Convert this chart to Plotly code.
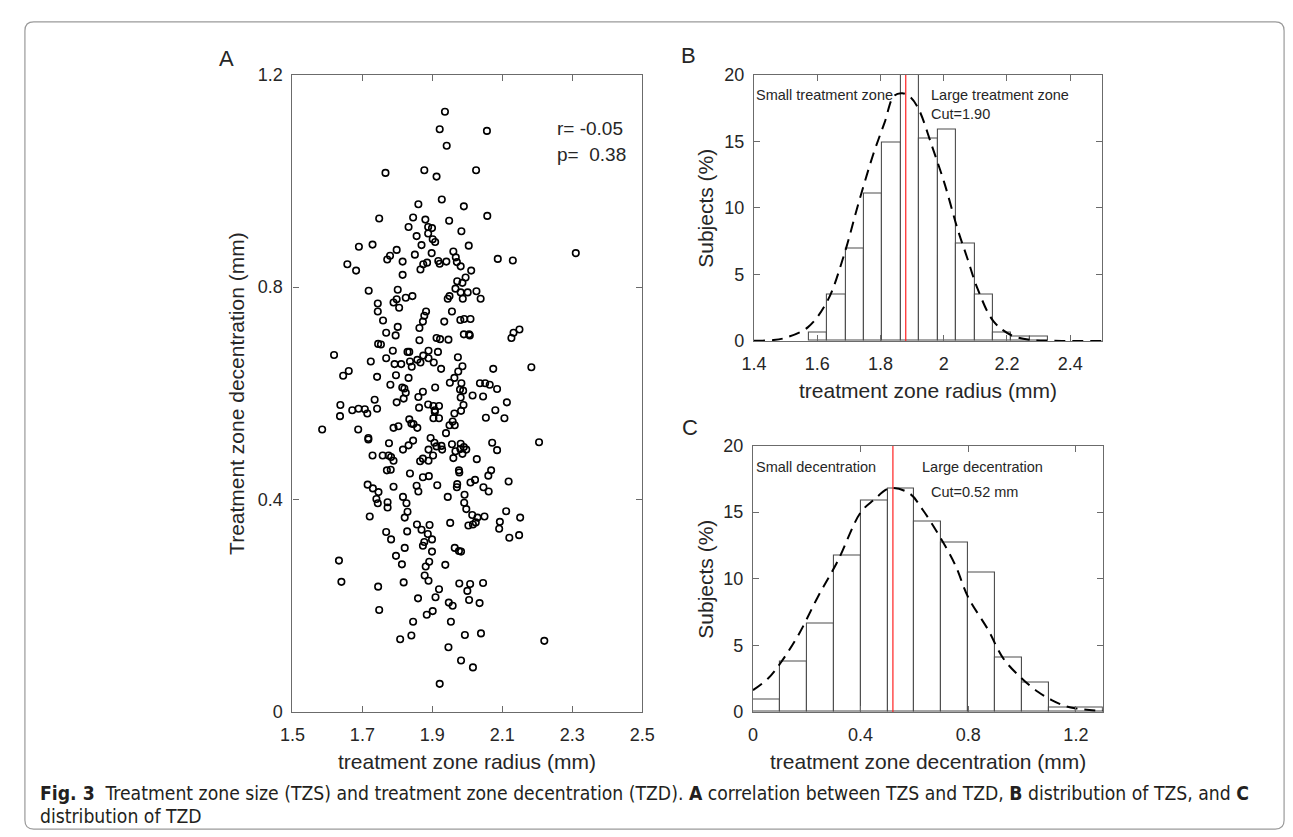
import plotly.graph_objects as go

W, H = 1293, 837

# ---------------- Data ----------------
# Panel A: treatment zone radius (mm) vs decentration (mm)
tz_radius = [
 1.936,1.921,2.056,1.941,1.766,1.877,1.912,2.025,1.927,1.860,1.990,1.748,1.845,1.880,1.948,2.057,
 1.832,1.888,1.899,1.855,1.888,1.983,1.901,1.908,1.690,1.729,1.869,2.004,1.798,1.898,1.850,1.960,
 1.779,1.771,1.967,2.310,2.087,2.130,1.657,1.682,1.815,1.874,1.885,1.917,1.921,1.940,1.970,1.866,
 1.981,2.011,1.815,1.995,1.971,1.986,
 1.718,1.801,1.966,1.981,2.001,2.026,2.038,1.987,1.944,1.949,1.824,1.843,1.798,1.789,1.805,1.744,
 1.744,1.882,1.877,1.956,1.759,1.873,1.934,1.980,1.991,2.009,1.801,1.863,2.149,2.132,2.126,1.768,
 1.795,1.990,2.005,2.007,1.863,1.912,1.922,1.946,1.745,1.753,1.619,1.787,1.829,1.834,1.889,1.916,
 1.768,1.874,1.857,1.889,1.973,1.724,1.836,1.866,1.904,1.792,1.811,1.841,1.925,1.986,1.974,2.074,
 2.183,1.661,1.645,1.742,1.796,1.832,1.963,1.780,1.950,1.983,2.036,2.051,2.064,2.085,1.814,1.820,
 1.908,1.979,1.988,1.824,1.873,1.860,1.818,1.981,2.015,2.045,1.735,1.798,2.113,1.637,1.888,1.903,
 1.919,1.989,1.862,1.742,1.671,1.689,1.707,1.714,1.907,1.907,1.982,2.080,1.636,1.963,1.903,1.919,
 2.053,2.106,1.834,1.840,1.846,1.958,1.949,1.964,1.803,1.789,1.857,1.585,1.688,1.939,1.717,1.717,
 1.895,1.776,1.845,1.832,1.906,1.912,1.926,1.956,1.981,1.990,1.997,1.928,1.816,1.889,2.071,2.205,
 2.085,1.966,1.980,1.986,1.729,1.758,1.775,1.782,1.789,1.902,1.873,1.865,1.889,1.960,2.027,1.770,
 1.781,1.976,1.977,2.068,1.836,1.873,1.890,2.060,2.118,2.022,2.009,1.715,1.730,1.746,1.789,1.855,
 1.860,1.914,1.971,1.970,2.046,2.061,1.944,1.816,1.992,
 1.740,1.744,1.772,1.772,1.826,1.991,1.997,1.829,1.721,1.821,2.111,2.014,2.029,2.049,2.151,2.093,
 1.951,2.024,2.016,2.003,1.856,1.892,1.869,1.887,2.091,1.768,1.828,1.782,1.899,1.877,1.873,2.120,
 2.148,1.821,1.964,1.976,1.982,1.899,1.796,1.633,1.813,1.891,1.937,1.881,1.878,1.889,1.640,1.818,
 1.977,2.008,2.045,1.745,1.919,2.000,1.859,1.909,2.005,1.947,1.958,2.035,1.748,1.901,1.884,1.845,
 1.953,1.840,1.808,1.993,2.039,2.220,1.946,1.982,2.016,1.921,
]
tz_decentration = [
 1.130,1.097,1.094,1.066,1.015,1.020,1.008,1.020,0.965,0.956,0.952,0.929,0.931,0.927,0.925,0.934,
 0.913,0.913,0.911,0.896,0.901,0.905,0.890,0.885,0.876,0.880,0.879,0.878,0.870,0.864,0.861,0.867,
 0.859,0.852,0.856,0.864,0.853,0.850,0.843,0.831,0.848,0.843,0.846,0.849,0.844,0.848,0.847,0.833,
 0.839,0.831,0.823,0.818,0.811,0.808,
 0.793,0.795,0.797,0.790,0.790,0.792,0.778,0.778,0.778,0.783,0.780,0.783,0.777,0.771,0.761,0.769,
 0.754,0.754,0.746,0.754,0.737,0.735,0.735,0.738,0.740,0.740,0.725,0.723,0.720,0.714,0.704,0.714,
 0.709,0.711,0.711,0.709,0.700,0.704,0.702,0.701,0.693,0.692,0.672,0.680,0.678,0.678,0.680,0.678,
 0.666,0.671,0.663,0.666,0.668,0.660,0.660,0.658,0.658,0.655,0.655,0.650,0.646,0.651,0.641,0.646,
 0.649,0.642,0.633,0.631,0.634,0.629,0.629,0.616,0.620,0.619,0.619,0.619,0.616,0.608,0.611,0.609,
 0.611,0.607,0.605,0.601,0.603,0.593,0.590,0.592,0.596,0.594,0.588,0.583,0.583,0.578,0.579,0.576,
 0.576,0.578,0.573,0.571,0.568,0.571,0.570,0.562,0.568,0.565,0.567,0.568,0.557,0.562,0.553,0.553,
 0.554,0.553,0.551,0.543,0.542,0.547,0.540,0.540,0.538,0.535,0.535,0.532,0.532,0.525,0.516,0.513,
 0.516,0.506,0.511,0.502,0.507,0.500,0.501,0.504,0.505,0.499,0.494,0.494,0.494,0.494,0.507,0.508,
 0.493,0.491,0.495,0.486,0.483,0.483,0.483,0.480,0.473,0.483,0.477,0.472,0.473,0.478,0.476,0.455,
 0.456,0.455,0.451,0.455,0.449,0.442,0.444,0.445,0.434,0.437,0.432,0.428,0.421,0.414,0.424,0.426,
 0.415,0.427,0.429,0.423,0.423,0.415,0.405,0.405,0.409,
 0.401,0.393,0.395,0.385,0.393,0.394,0.382,0.377,0.368,0.366,0.378,0.371,0.366,0.368,0.366,0.358,
 0.356,0.357,0.353,0.351,0.353,0.352,0.343,0.335,0.345,0.339,0.340,0.325,0.325,0.320,0.313,0.328,
 0.333,0.309,0.309,0.303,0.302,0.302,0.294,0.285,0.278,0.283,0.277,0.274,0.257,0.247,0.245,0.244,
 0.242,0.241,0.243,0.236,0.231,0.228,0.214,0.216,0.211,0.206,0.200,0.205,0.192,0.190,0.183,0.170,
 0.170,0.144,0.137,0.145,0.148,0.134,0.122,0.097,0.084,0.053,
]
r_text = "r= -0.05"
p_text = "p=\u00a0 0.38"

# Panel B: histogram of treatment zone radius
B_edges = [1.573, 1.631, 1.690, 1.748, 1.806, 1.865, 1.923, 1.981, 2.039, 2.098, 2.155, 2.214, 2.272, 2.330]
B_pct = [0.61, 3.49, 6.96, 11.09, 14.9, 20.0, 15.2, 15.85, 7.28, 3.49, 0.61, 0.32, 0.32]
B_fit_x = [1.40, 1.458, 1.50, 1.571, 1.632, 1.684, 1.730, 1.777, 1.813, 1.843, 1.869, 1.895, 1.921,
           1.962, 2.003, 2.044, 2.075, 2.106, 2.157, 2.214, 2.28, 2.35, 2.42, 2.50]
B_fit_y = [0.02, 0.07, 0.25, 1.05, 3.0, 6.4, 10.3, 14.0, 16.4, 18.4, 18.6, 18.3, 17.4,
           14.7, 11.8, 8.4, 6.2, 4.0, 1.5, 0.44, 0.07, 0.02, 0.0, 0.0]
B_cut = 1.88

# Panel C: histogram of treatment zone decentration
C_edges = [0.0, 0.1, 0.2, 0.3, 0.4, 0.5, 0.6, 0.7, 0.8, 0.9, 1.0, 1.1, 1.2, 1.3]
C_pct = [0.95, 3.8, 6.67, 11.75, 15.87, 16.8, 14.26, 12.7, 10.45, 4.12, 2.2, 0.32, 0.32]
C_fit_x = [0.0, 0.055, 0.103, 0.172, 0.24, 0.314, 0.40, 0.448, 0.509, 0.582, 0.63, 0.69, 0.751,
           0.80, 0.873, 0.931, 1.0, 1.06, 1.11, 1.165, 1.207, 1.25, 1.3]
C_fit_y = [1.64, 2.5, 3.7, 5.9, 8.6, 11.3, 14.97, 15.9, 16.8, 16.4, 15.2, 13.3, 11.06,
           8.6, 6.2, 4.0, 2.5, 1.5, 0.9, 0.42, 0.25, 0.15, 0.09]
C_cut = 0.52

A_xticks = [1.5, 1.7, 1.9, 2.1, 2.3, 2.5]
A_yticks = [0, 0.4, 0.8, 1.2]
B_xticks = [1.4, 1.6, 1.8, 2.0, 2.2, 2.4]
pct_ticks = [0, 5, 10, 15, 20]
C_xticks = [0, 0.4, 0.8, 1.2]

def lab(v):
    return "%g" % v

# ---------------- Figure ----------------
px = lambda x: x / W
py = lambda y: 1 - y / H

FONT = "Liberation Sans, Arial, Helvetica, sans-serif"
AX = "#6b6b6b"
TXT = "#262626"

fig = go.Figure()

fig.add_trace(go.Scatter(
    x=tz_radius, y=tz_decentration, mode="markers",
    marker=dict(symbol="circle-open", size=6.5, color="black", line=dict(width=1.6, color="black")),
    xaxis="x", yaxis="y", hoverinfo="skip"))

def hist(edges, vals, xa, ya):
    centers = [(edges[i] + edges[i + 1]) / 2 for i in range(len(vals))]
    widths = [edges[i + 1] - edges[i] for i in range(len(vals))]
    fig.add_trace(go.Bar(x=centers, y=vals, width=widths, xaxis=xa, yaxis=ya,
                         marker=dict(color="white", line=dict(color="#4d4d4d", width=1.1)),
                         hoverinfo="skip"))

hist(B_edges, B_pct, "x2", "y2")
hist(C_edges, C_pct, "x3", "y3")

for cut, xa, ya in [(B_cut, "x2", "y2"), (C_cut, "x3", "y3")]:
    fig.add_trace(go.Scatter(x=[cut, cut], y=[0, 20], mode="lines", xaxis=xa, yaxis=ya,
                             line=dict(color="#ff2020", width=1.2), hoverinfo="skip"))

for fx, fy, xa, ya in [(B_fit_x, B_fit_y, "x2", "y2"), (C_fit_x, C_fit_y, "x3", "y3")]:
    fig.add_trace(go.Scatter(x=fx, y=fy, mode="lines", xaxis=xa, yaxis=ya,
                             line=dict(color="black", width=2, dash="11px,7px", shape="spline"),
                             hoverinfo="skip"))

def axis(domain, rng, ticks, standoff):
    return dict(domain=domain, range=rng, tickvals=ticks, ticktext=[lab(t) for t in ticks],
                showline=True, linecolor=AX, linewidth=1.2, mirror="ticks",
                ticks="inside", ticklen=6, tickcolor=AX, tickwidth=1,
                showgrid=False, zeroline=False, fixedrange=True,
                tickfont=dict(family=FONT, size=18, color=TXT), ticklabelstandoff=standoff)

fig.update_layout(
    width=W, height=H, margin=dict(l=0, r=0, t=0, b=0),
    paper_bgcolor="white", plot_bgcolor="white", showlegend=False,
    bargap=0,
    xaxis=axis([px(277), px(634)], [1.5, 2.5], A_xticks, 6),
    yaxis=axis([py(711), py(58)], [0, 1.2], A_yticks, 5),
    xaxis2=axis([px(748), px(1103)], [1.4, 2.5], B_xticks, 6),
    yaxis2=axis([py(331), py(58)], [0, 20], pct_ticks, 5),
    xaxis3=axis([px(747), px(1104)], [0, 1.3], C_xticks, 6),
    yaxis3=axis([py(711), py(438)], [0, 20], pct_ticks, 5),
)
fig.layout.xaxis2.anchor = "y2"
fig.layout.yaxis2.anchor = "x2"
fig.layout.xaxis3.anchor = "y3"
fig.layout.yaxis3.anchor = "x3"

ann = []
def text(t, x, y, size, xanchor="center", angle=0, family=FONT, color=TXT):
    ann.append(dict(text=t, x=px(x), y=py(y), xref="paper", yref="paper", showarrow=False,
                    xanchor=xanchor, yanchor="middle", textangle=angle,
                    font=dict(family=family, size=size, color=color)))

# panel letters
text("A", 210, 41, 22)
text("B", 681, 38, 22)
text("C", 683, 420, 22)
# axis titles
text("treatment zone radius (mm)", 455.5, 762, 21)
text("treatment zone radius (mm)", 925.5, 382, 21)
text("treatment zone decentration (mm)", 925.5, 762, 21)
text("Treatment zone decentration (mm)", 220, 384.5, 21, angle=-90)
text("Subjects (%)", 699, 194.5, 21, angle=-90)
text("Subjects (%)", 699, 574.5, 21, angle=-90)
# stats
text(r_text, 545, 113, 19, "left")
text(p_text, 545, 140, 19, "left")
# histogram labels
text("Small treatment zone", 748, 79, 14.5, "left")
text("Large treatment zone", 927, 79, 14.5, "left")
text("Cut=1.90", 927, 98, 14.5, "left")
text("Small decentration", 748, 460, 14.5, "left")
text("Large decentration", 917, 460, 14.5, "left")
text("Cut=0.52 mm", 927, 486, 14.5, "left")
# caption
CAP = "Liberation Sans Narrow, Arial Narrow, DejaVu Sans Condensed, sans-serif"
text("<b>Fig. 3</b>\u00a0\u00a0Treatment zone size (TZS) and treatment zone decentration (TZD). "
     "<b>A</b> correlation between TZS and TZD, <b>B</b> distribution of TZS, and <b>C</b>",
     17, 794, 19.2, "left", family=CAP, color="#231f20")
text("distribution of TZD", 17, 818, 19.2, "left", family=CAP, color="#231f20")
fig.update_layout(annotations=ann)

# rounded frame
x0, y0, x1, y1, r = 4, 4, 1289, 831, 9
path = (f"M {px(x0 + r)},{py(y0)} L {px(x1 - r)},{py(y0)} Q {px(x1)},{py(y0)} {px(x1)},{py(y0 + r)} "
        f"L {px(x1)},{py(y1 - r)} Q {px(x1)},{py(y1)} {px(x1 - r)},{py(y1)} "
        f"L {px(x0 + r)},{py(y1)} Q {px(x0)},{py(y1)} {px(x0)},{py(y1 - r)} "
        f"L {px(x0)},{py(y0 + r)} Q {px(x0)},{py(y0)} {px(x0 + r)},{py(y0)} Z")
fig.add_shape(type="path", path=path, xref="paper", yref="paper",
              line=dict(color="#9a9a9a", width=1.2))

fig.write_html("out.html")
